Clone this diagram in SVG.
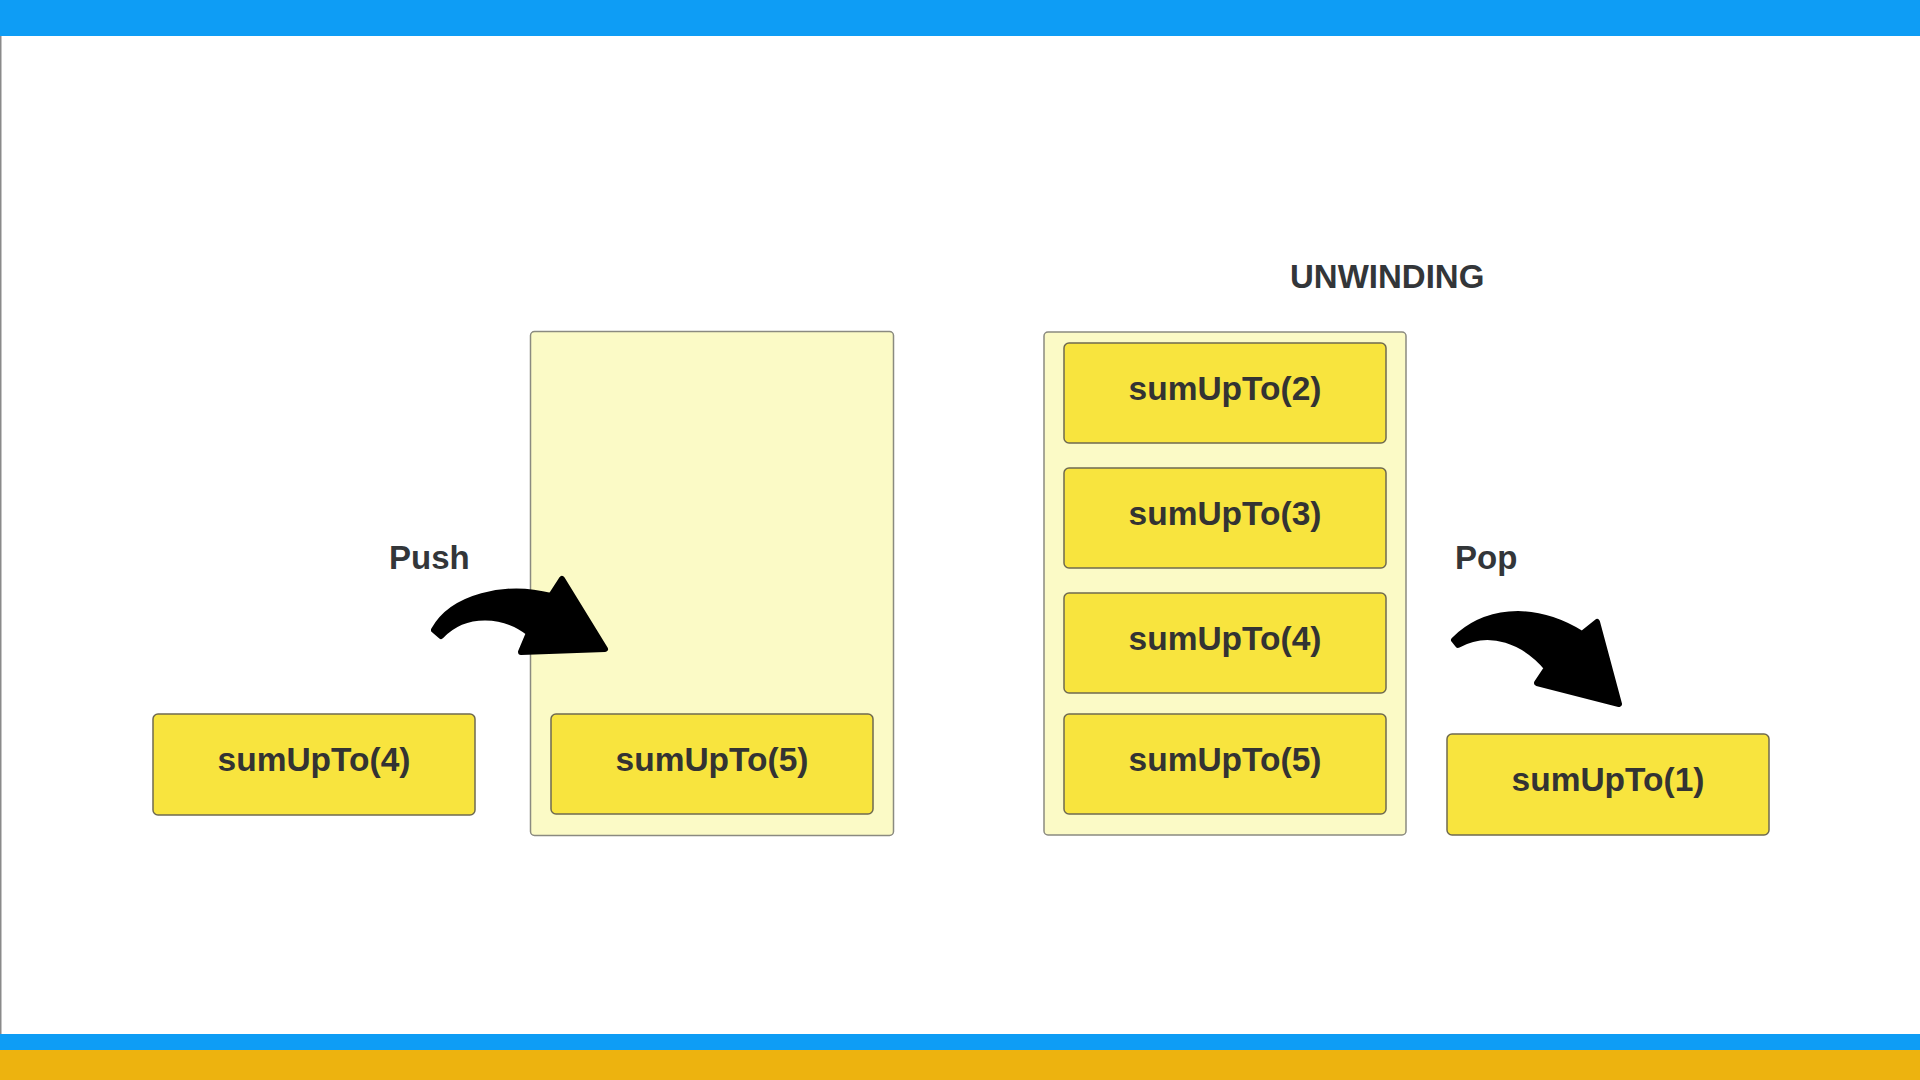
<svg xmlns="http://www.w3.org/2000/svg" width="1920" height="1080" viewBox="0 0 1920 1080">
<style>
.stack{fill:#FBFAC6;stroke:#8a8a80;stroke-width:1.5}
.box{fill:#F8E43E;stroke:#6f6a50;stroke-width:1.5}
.lbl{font-family:"Liberation Sans",Arial,sans-serif;font-weight:bold;font-size:33.5px;fill:#333333;text-anchor:middle}
.title{font-family:"Liberation Sans",Arial,sans-serif;font-weight:bold;font-size:33px;fill:#333639}
.arrow{fill:#000;stroke:#000;stroke-width:6;stroke-linejoin:round}
</style>
<rect x="0" y="0" width="1920" height="1080" fill="#ffffff"/>
<rect x="0" y="0" width="1920" height="36" fill="#0E9DF5"/>
<rect x="0" y="1034" width="1920" height="16" fill="#0E9DF5"/>
<rect x="0" y="1050" width="1920" height="30" fill="#EDB30F"/>
<rect x="0" y="36" width="1.5" height="998" fill="#8a8a8a"/>

<g id="stack-left">
<rect class="stack" x="530.5" y="331.5" width="363" height="504" rx="4"/>
</g>
<g id="stack-right">
<rect class="stack" x="1044" y="332" width="362" height="503" rx="4"/>
</g>

<g id="node-left-4">
<rect class="box" x="153" y="714" width="322" height="101" rx="5"/>
<text class="lbl" x="314" y="771">sumUpTo(4)</text>
</g>
<g id="node-left-5">
<rect class="box" x="551" y="714" width="322" height="100" rx="5"/>
<text class="lbl" x="712" y="771">sumUpTo(5)</text>
</g>

<g id="node-right-2">
<rect class="box" x="1064" y="343" width="322" height="100" rx="5"/>
<text class="lbl" x="1225" y="400">sumUpTo(2)</text>
</g>
<g id="node-right-3">
<rect class="box" x="1064" y="468" width="322" height="100" rx="5"/>
<text class="lbl" x="1225" y="525">sumUpTo(3)</text>
</g>
<g id="node-right-4">
<rect class="box" x="1064" y="593" width="322" height="100" rx="5"/>
<text class="lbl" x="1225" y="650">sumUpTo(4)</text>
</g>
<g id="node-right-5">
<rect class="box" x="1064" y="714" width="322" height="100" rx="5"/>
<text class="lbl" x="1225" y="771">sumUpTo(5)</text>
</g>

<g id="node-popped-1">
<rect class="box" x="1447" y="734" width="322" height="101" rx="5"/>
<text class="lbl" x="1608" y="791">sumUpTo(1)</text>
</g>

<g id="labels">
<text class="title" x="389" y="569">Push</text>
<text class="title" x="1455" y="569">Pop</text>
<text class="title" x="1290" y="288" font-size="34">UNWINDING</text>
</g>

<g id="connectors">
<path class="arrow" d="M 434,630 C 452,597 505,584 551,596 L 562,579 L 605,649 L 521,652 L 529,633 C 505,614 466,610 441,636 Z"/>
<path class="arrow" d="M 1454,640 C 1482,612 1530,602 1582,634 L 1597,622 L 1619,704 L 1537,683 L 1547,668 C 1525,642 1490,627 1458,645 Z"/>
</g>
</svg>
